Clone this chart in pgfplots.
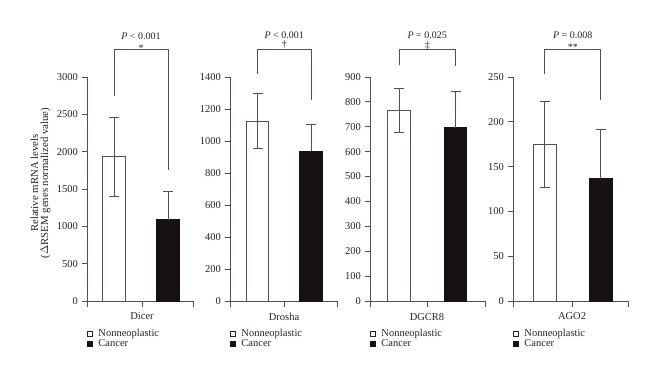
\documentclass[border=0pt]{standalone}
\usepackage{fontspec}
\setmainfont{Liberation Serif}
\usepackage{pgfplots}
\pgfplotsset{compat=1.18}
\definecolor{axc}{RGB}{88,78,74}
\definecolor{txt}{RGB}{40,36,34}
\definecolor{barblk}{RGB}{22,18,17}
\tikzset{brk/.style={axc, line width=0.9pt}}
\pgfplotsset{
  panel/.style={
    scale only axis, clip=false,
    axis x line*=bottom, axis y line*=left,
    axis line style={axc, line width=0.9pt},
    every tick/.style={axc, line width=0.9pt},
    tick align=outside, major tick length=5.5pt,
    ymin=0, xmin=0, height=224pt,
    anchor=origin,
    /pgf/number format/assume math mode=true,
    /pgf/number format/1000 sep={},
    ticklabel style={font=\fontsize{10.5}{12}\selectfont, text=txt},
    xticklabel style={font=\fontsize{10.5}{12}\selectfont, yshift=-3pt},
    legend style={draw=none, fill=none, font=\fontsize{10.5}{12}\selectfont, text=txt, anchor=north west,
      at={(axis description cs:0,-0.118)}, row sep=-2.5pt, inner sep=0pt},
    legend cell align=left,
  },
  wbar/.style={ybar, bar width=22.5pt, bar shift=0pt, fill=white, draw=axc, line width=0.9pt,
    error bars/.cd, y dir=both, y explicit, error bar style={axc, line width=0.9pt},
    error mark=-, error mark options={rotate=90, axc, line width=0.9pt, mark size=5pt}, /pgfplots/.cd},
  bbar/.style={ybar, bar width=22.5pt, bar shift=0pt, fill=barblk, draw=barblk, line width=0.9pt,
    error bars/.cd, y dir=plus, y explicit, error bar style={axc, line width=0.9pt},
    error mark=-, error mark options={rotate=90, axc, line width=0.9pt, mark size=5pt}, /pgfplots/.cd},
  wleg/.style={legend image code/.code={\draw[fill=white,draw=txt,line width=0.7pt] (0.8pt,-2.5pt) rectangle (5.8pt,2.5pt); \path (9.5pt,0pt);}},
  bleg/.style={legend image code/.code={\draw[fill=barblk,draw=barblk] (0.8pt,-2.5pt) rectangle (5.8pt,2.5pt); \path (9.5pt,0pt);}},
}
\newcommand{\ptext}[1]{\fontsize{10}{12}\selectfont #1}
\begin{document}
\begin{tikzpicture}
\useasboundingbox (0pt,0pt) rectangle (660pt,378pt);
\node[rotate=90, align=center, text=txt, font=\fontsize{10.8}{10}\selectfont] at (40.5pt,195pt)
  {Relative mRNA levels\\($\Delta$RSEM genes normalized value)};

% Panel 1: Dicer
\begin{axis}[panel, at={(87pt,77pt)}, width=106pt, xmax=106, ymax=3000,
  ytick={0,500,...,3000}, xtick={0,55,106}, xticklabels={,Dicer,}]
\addlegendimage{wleg}\addlegendentry{Nonneoplastic}
\addlegendimage{bleg}\addlegendentry{Cancer}
\addplot[forget plot, wbar] coordinates {(27,1933) +- (0,531)};
\addplot[forget plot, bbar] coordinates {(81,1090) +- (0,373)};
\draw[brk] (axis cs:27,2743) |- (axis cs:81,3365) -- (axis cs:81,1756);
\node[anchor=base, text=txt, font=\ptext{}] at ([yshift=10.5pt]axis cs:54,3365) {\textit{P} < 0.001};
\node[anchor=base, text=txt, font=\ptext{}] at ([yshift=-1.5pt]axis cs:54,3365) {*};
\end{axis}

% Panel 2: Drosha
\begin{axis}[panel, at={(230pt,77pt)}, width=107pt, xmax=107, ymax=1400,
  ytick={0,200,...,1400}, xtick={0,54,107}, xticklabels={,Drosha,}]
\addlegendimage{wleg}\addlegendentry{Nonneoplastic}
\addlegendimage{bleg}\addlegendentry{Cancer}
\addplot[forget plot, wbar] coordinates {(27.5,1125) +- (0,172)};
\addplot[forget plot, bbar] coordinates {(81,937) +- (0,169)};
\draw[brk] (axis cs:27.5,1419) |- (axis cs:81,1575) -- (axis cs:81,1256);
\node[anchor=base, text=txt, font=\ptext{}] at ([yshift=10.5pt]axis cs:54.25,1575) {\textit{P} < 0.001};
\node[anchor=base, text=txt, font=\ptext{}] at ([yshift=1pt]axis cs:54.25,1575) {†};
\end{axis}

% Panel 3: DGCR8
\begin{axis}[panel, at={(370pt,77pt)}, width=115pt, xmax=115, ymax=900,
  ytick={0,100,...,900}, xtick={0,57,115}, xticklabels={,DGCR8,}]
\addlegendimage{wleg}\addlegendentry{Nonneoplastic}
\addlegendimage{bleg}\addlegendentry{Cancer}
\addplot[forget plot, wbar] coordinates {(29,767) +- (0,88)};
\addplot[forget plot, bbar] coordinates {(85.5,696) +- (0,145)};
\draw[brk] (axis cs:29,948) |- (axis cs:85.5,1012) -- (axis cs:85.5,944);
\node[anchor=base, text=txt, font=\ptext{}] at ([yshift=10.5pt]axis cs:57.25,1012) {\textit{P} = 0.025};
\node[anchor=base, text=txt, font=\ptext{}] at ([yshift=1pt]axis cs:57.25,1012) {‡};
\end{axis}

% Panel 4: AGO2
\begin{axis}[panel, at={(513pt,77pt)}, width=115pt, xmax=115, ymax=250,
  ytick={0,50,...,250}, xtick={0,59,115}, xticklabels={,AGO2,}]
\addlegendimage{wleg}\addlegendentry{Nonneoplastic}
\addlegendimage{bleg}\addlegendentry{Cancer}
\addplot[forget plot, wbar] coordinates {(31.7,174.5) +- (0,48)};
\addplot[forget plot, bbar] coordinates {(87.8,136.5) +- (0,55)};
\draw[brk] (axis cs:31.7,253) |- (axis cs:87.8,281) -- (axis cs:87.8,224);
\node[anchor=base, text=txt, font=\ptext{}] at ([yshift=10.5pt]axis cs:59.75,281) {\textit{P} = 0.008};
\node[anchor=base, text=txt, font=\ptext{}] at ([yshift=-1.5pt]axis cs:59.75,281) {**};
\end{axis}
\end{tikzpicture}
\end{document}
